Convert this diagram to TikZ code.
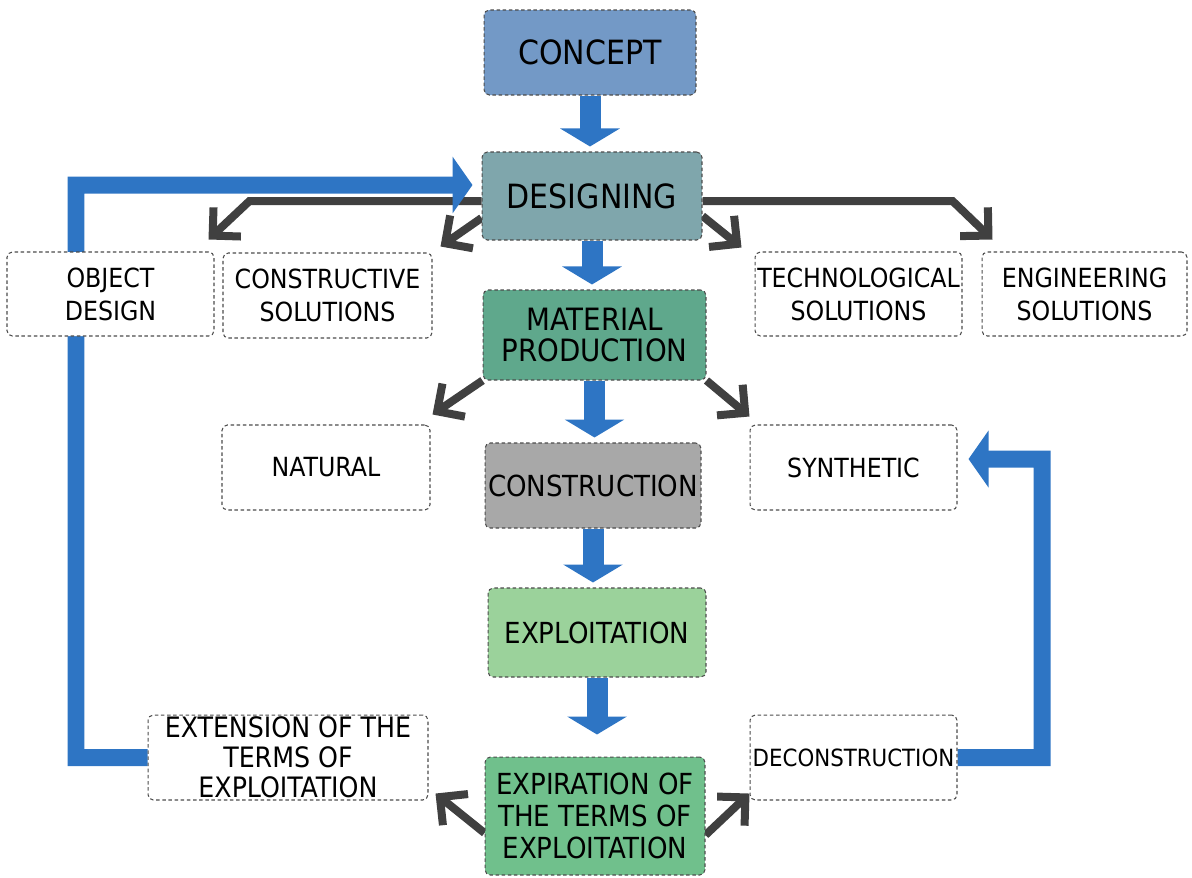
\documentclass[tikz,border=0pt]{standalone}
\usepackage{fontspec}
\setmainfont{DejaVu Sans Condensed}
\usepackage{xcolor}
\usetikzlibrary{arrows.meta}
\usetikzlibrary{backgrounds}
\usetikzlibrary{positioning}

\definecolor{conceptblue}{RGB}{115,153,198}
\definecolor{designteal}{RGB}{127,166,172}
\definecolor{prodgreen}{RGB}{95,168,140}
\definecolor{constrgrey}{RGB}{168,168,168}
\definecolor{exploitgreen}{RGB}{155,210,155}
\definecolor{expiregreen}{RGB}{112,192,140}
\definecolor{flowblue}{RGB}{46,117,196}
\definecolor{arrowgrey}{RGB}{64,64,64}

\begin{document}
\begin{tikzpicture}[x=0.02cm, y=-0.02cm,
  box/.style={draw=black!70, dash pattern=on 2pt off 1.5pt, line width=0.6pt,
    rounded corners=3pt, align=center, inner sep=1pt},
  mainbox/.style={box, font=\fontsize{16.5}{18}\selectfont},
  sidebox/.style={box, fill=white, font=\fontsize{15}{18.7}\selectfont},
  flow/.style={draw=flowblue, line width=0.42cm,
    -{Triangle[width=1.18cm,length=0.36cm]}, shorten >=0.1cm},
  backflow/.style={draw=flowblue, line width=0.34cm,
    -{Triangle[width=1.12cm,length=0.4cm]}},
  branchar/.style={draw=arrowgrey, line width=0.16cm,
    -{Straight Barb[length=0.4cm,width=0.8cm]}}]
  \useasboundingbox (0,0) rectangle (1192,877);

  % main chain
  \node[mainbox, fill=conceptblue, minimum width=4.24cm, minimum height=1.7cm,
    font=\fontsize{19}{22}\selectfont] (concept) at (590,52.5) {CONCEPT};
  \node[mainbox, fill=designteal, minimum width=4.4cm, minimum height=1.76cm,
    font=\fontsize{19}{22}\selectfont] (designing) at (592,196) {DESIGNING};
  \node[mainbox, fill=prodgreen, minimum width=4.46cm, minimum height=1.8cm,
    font=\fontsize{17.5}{18}\selectfont] (material) at (594.5,335) {MATERIAL\\PRODUCTION};
  \node[mainbox, fill=constrgrey, minimum width=4.32cm, minimum height=1.7cm]
    (construction) at (593,485.5) {CONSTRUCTION};
  \node[mainbox, fill=exploitgreen, minimum width=4.36cm, minimum height=1.78cm]
    (exploitation) at (597,632.5) {EXPLOITATION};
  \node[mainbox, fill=expiregreen, minimum width=4.4cm, minimum height=2.36cm]
    (expiration) at (595,816) {EXPIRATION OF\\THE TERMS OF\\EXPLOITATION};

  % side boxes
  \node[sidebox, minimum width=4.14cm, minimum height=1.68cm] (objdesign) at (110.5,294) {OBJECT\\DESIGN};
  \node[sidebox, minimum width=4.18cm, minimum height=1.7cm] (constructive) at (327.5,295.5) {CONSTRUCTIVE\\SOLUTIONS};
  \node[sidebox, minimum width=4.14cm, minimum height=1.68cm] (technological) at (858.5,294) {TECHNOLOGICAL\\SOLUTIONS};
  \node[sidebox, minimum width=4.1cm, minimum height=1.68cm] (engineering) at (1084.5,294) {ENGINEERING\\SOLUTIONS};
  \node[sidebox, minimum width=4.16cm, minimum height=1.7cm] (natural) at (326,467.5) {NATURAL};
  \node[sidebox, minimum width=4.14cm, minimum height=1.7cm] (synthetic) at (853.5,467.5) {SYNTHETIC};
  \node[sidebox, minimum width=5.6cm, minimum height=1.7cm, inner sep=0pt,
    font=\fontsize{16}{17}\selectfont] (extension) at (288,757.5) {EXTENSION OF THE\\TERMS OF\\EXPLOITATION};
  \node[sidebox, minimum width=4.14cm, minimum height=1.7cm,
    font=\fontsize{13.5}{16}\selectfont] (deconstruction) at (853.5,757.5) {DECONSTRUCTION};

  \begin{scope}[on background layer]
  % grey branches
  \draw[branchar] ([yshift=-0.1cm]designing.west) -- ++(-232,0) -- ([shift={(-0.12cm,0.24cm)}]objdesign.north east);
  \draw[branchar] ([yshift=-0.44cm]designing.west) -- ([shift={(0.16cm,0.12cm)}]constructive.north east);
  \draw[branchar] ([yshift=-0.1cm]designing.east) -- ++(250,0) -- ([shift={(0.22cm,0.24cm)}]engineering.north west);
  \draw[branchar] ([yshift=-0.4cm]designing.east) -- ([shift={(-0.26cm,0.08cm)}]technological.north west);
  \draw[branchar] (material.south west) -- ([shift={(0.04cm,0.2cm)}]natural.north east);
  \draw[branchar] (material.south east) -- ([yshift=0.16cm]synthetic.north west);
  \draw[branchar] ([yshift=-0.34cm]expiration.west) -- ([shift={(0.14cm,0.14cm)}]extension.south east);
  \draw[branchar] ([yshift=-0.38cm]expiration.east) -- ([yshift=0.14cm]deconstruction.south west);

  % blue flow
  \draw[flow] (concept.south) -- (concept.south |- designing.north);
  \draw[flow] (designing.south) -- (designing.south |- material.north);
  \draw[flow] (material.south) -- (material.south |- construction.north);
  \draw[flow] (construction.south) -- (construction.south |- exploitation.north);
  \draw[flow, shorten >=0.44cm] (exploitation.south) -- (exploitation.south |- expiration.north);
  \draw[backflow, shorten >=0.18cm] (extension.west) -| (76,185) -- ([yshift=0.22cm]designing.west);
  \draw[backflow, shorten >=0.22cm] (deconstruction.east) -| (1042,459) -- ([yshift=0.17cm]synthetic.east);
  \end{scope}
\end{tikzpicture}
\end{document}
